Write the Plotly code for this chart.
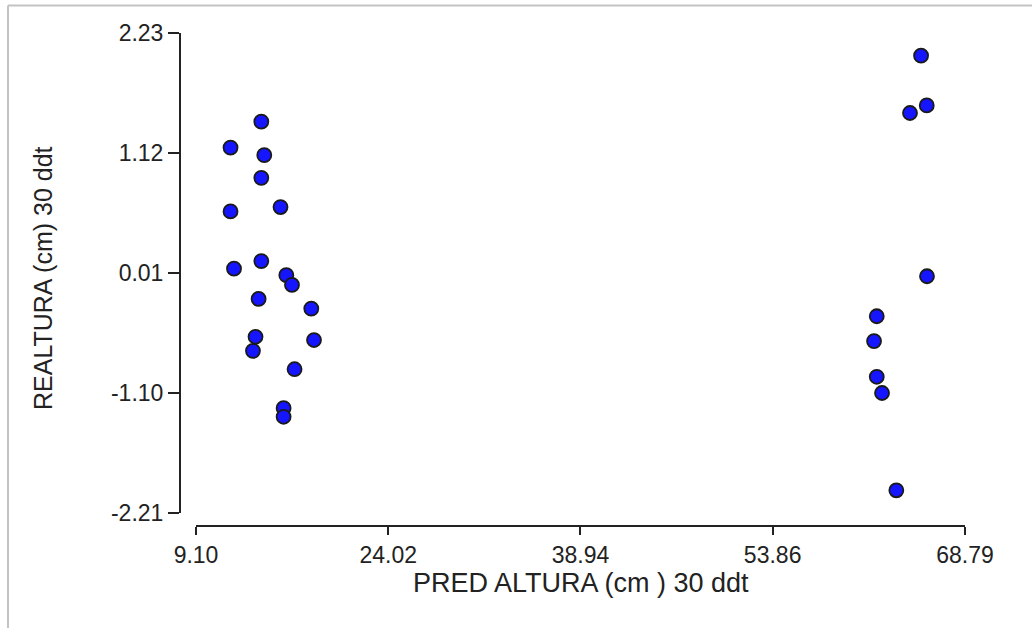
import plotly.graph_objects as go

# Data
pred_altura = [14.17, 11.78, 14.40, 14.17, 11.78, 15.66, 14.17, 12.05, 16.11, 16.55,
               13.96, 18.05, 13.72, 18.26, 13.52, 16.75, 15.90, 15.90,
               65.38, 65.82, 64.52, 65.84, 61.94, 61.73, 61.94, 62.35, 63.46]
re_altura = [1.41, 1.17, 1.10, 0.89, 0.58, 0.62, 0.12, 0.05, -0.01, -0.10,
             -0.23, -0.32, -0.58, -0.61, -0.71, -0.88, -1.24, -1.32,
             2.02, 1.56, 1.49, -0.02, -0.39, -0.62, -0.95, -1.10, -2.00]

x_ticks = [9.10, 24.02, 38.94, 53.86, 68.79]
x_tick_labels = ["9.10", "24.02", "38.94", "53.86", "68.79"]
y_ticks = [-2.21, -1.10, 0.01, 1.12, 2.23]
y_tick_labels = ["-2.21", "-1.10", "0.01", "1.12", "2.23"]

x_title = "PRED ALTURA (cm ) 30 ddt"
y_title = "REALTURA (cm) 30 ddt"

W, H = 1032, 628
L, R, T, B = 180, 67, 33, 102
pw, ph = W - L - R, H - T - B

def px_to_paper_x(px):
    return (px - L) / pw

def px_to_paper_y(py):
    return (H - B - py) / ph

font_family = "Arial, Liberation Sans, sans-serif"
axis_col = "#222222"

fig = go.Figure()
fig.add_trace(go.Scatter(
    x=pred_altura, y=re_altura, mode="markers",
    marker=dict(symbol="circle", size=14, color="#1515ff",
                line=dict(color="#1a1a1a", width=1.8)),
    showlegend=False, hoverinfo="x+y",
))

fig.update_layout(
    width=W, height=H,
    margin=dict(l=L, r=R, t=T, b=B, pad=0),
    paper_bgcolor="white", plot_bgcolor="white",
    font=dict(family=font_family, color=axis_col),
    xaxis=dict(
        range=[x_ticks[0], x_ticks[-1]],
        domain=[px_to_paper_x(196), 1],
        anchor="free", position=0,
        tickmode="array", tickvals=x_ticks, ticktext=x_tick_labels,
        ticks="outside", ticklen=8, tickwidth=2, tickcolor=axis_col,
        showline=True, linecolor=axis_col, linewidth=2,
        showgrid=False, zeroline=False,
        tickfont=dict(size=23, color=axis_col, family=font_family),
    ),
    yaxis=dict(
        range=[y_ticks[0], y_ticks[-1]],
        domain=[(H - B - 513) / ph, 1],
        anchor="free", position=0,
        tickmode="array", tickvals=y_ticks, ticktext=y_tick_labels,
        ticks="outside", ticklen=11, tickwidth=2, tickcolor=axis_col,
        showline=True, linecolor=axis_col, linewidth=2,
        showgrid=False, zeroline=False,
        tickfont=dict(size=23, color=axis_col, family=font_family),
    ),
    annotations=[
        dict(text=x_title, xref="paper", yref="paper",
             x=(px_to_paper_x(196) + 1) / 2, y=px_to_paper_y(583),
             xanchor="center", yanchor="middle", showarrow=False,
             font=dict(size=27, color=axis_col, family=font_family)),
        dict(text=y_title, xref="paper", yref="paper",
             x=px_to_paper_x(43), y=px_to_paper_y(278),
             xanchor="center", yanchor="middle", showarrow=False, textangle=-90,
             font=dict(size=25, color=axis_col, family=font_family)),
    ],
    shapes=[
        dict(type="line", xref="paper", yref="paper",
             x0=px_to_paper_x(8), x1=px_to_paper_x(1032),
             y0=px_to_paper_y(5.5), y1=px_to_paper_y(5.5),
             line=dict(color="#c3c3c3", width=2)),
        dict(type="line", xref="paper", yref="paper",
             x0=px_to_paper_x(8), x1=px_to_paper_x(8),
             y0=px_to_paper_y(5.5), y1=px_to_paper_y(628),
             line=dict(color="#c3c3c3", width=2)),
    ],
)

fig.write_html("out.html")
